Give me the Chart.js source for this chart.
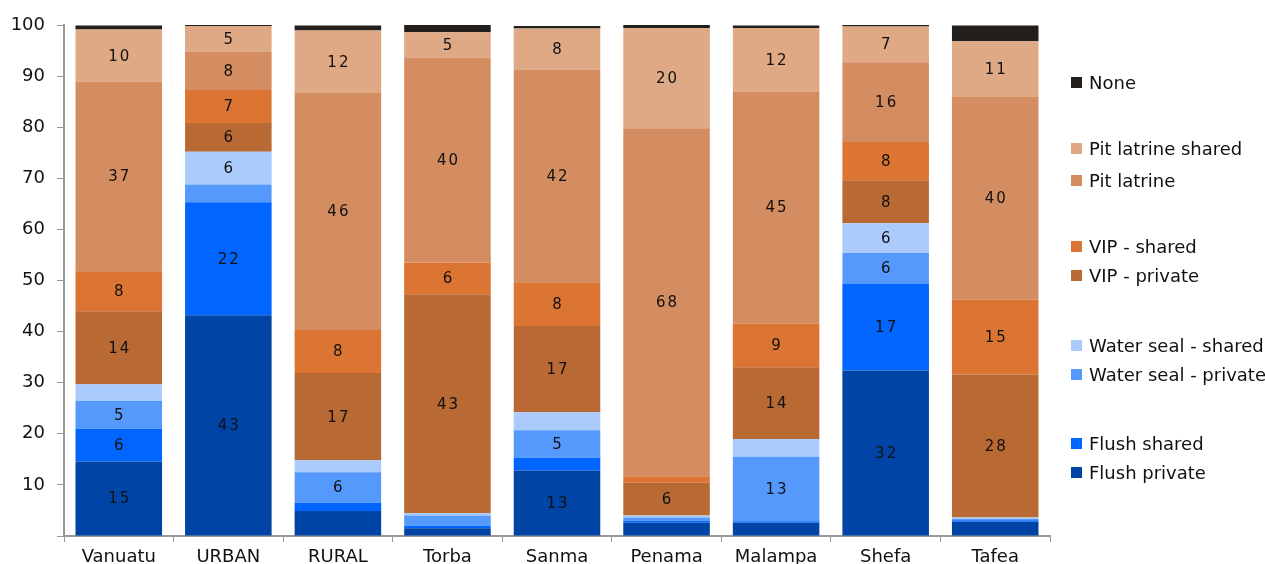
<!DOCTYPE html>
<html>
<head>
<meta charset="utf-8">
<script src="https://cdn.jsdelivr.net/npm/chart.js@4"></script>
<style>
  body { margin: 0; background: #fff; font-family: "DejaVu Sans", sans-serif; }
  #wrap { position: relative; width: 1265px; height: 564px; overflow: hidden; }
  #legend { position: absolute; left: 1071px; top: 0; }
  .item { position: absolute; white-space: nowrap; font-size: 18px; color: #111; line-height: 20px; }
  .item span.box { display: inline-block; width: 11px; height: 11px; margin-right: 7px; vertical-align: 1px; }
</style>
</head>
<body>
<div id="wrap">
  <canvas id="chart" width="1265" height="564"></canvas>
  <div id="legend"></div>
</div>
<script>
// categories
const regions = ["Vanuatu", "URBAN", "RURAL", "Torba", "Sanma", "Penama", "Malampa", "Shefa", "Tafea"];

// series, bottom to top (percent of households)
const flushPrivate     = [14.6, 43.2, 4.9, 1.5, 12.8, 2.6, 2.6, 32.4, 2.8];
const flushShared      = [6.4, 22.1, 1.6, 0.5, 2.5, 0.4, 0.3, 16.9, 0.3];
const waterSealPrivate = [5.4, 3.5, 6.0, 2.0, 5.4, 0.6, 12.6, 6.1, 0.3];
const waterSealShared  = [3.3, 6.4, 2.3, 0.5, 3.5, 0.4, 3.5, 5.8, 0.2];
const vipPrivate       = [14.3, 5.6, 17.1, 42.8, 16.9, 6.4, 14.0, 8.4, 28.0];
const vipShared        = [7.8, 6.5, 8.4, 6.2, 8.4, 1.3, 8.6, 7.5, 14.7];
const pitLatrine       = [37.1, 7.5, 46.4, 40.1, 41.8, 68.1, 45.4, 15.6, 39.6];
const pitShared        = [10.2, 5.0, 12.2, 5.0, 8.0, 19.6, 12.4, 7.0, 10.9];
const none             = [0.8, 0.3, 1.0, 1.4, 0.5, 0.6, 0.5, 0.3, 3.1];

const yTicks = [0, 10, 20, 30, 40, 50, 60, 70, 80, 90, 100];

const series = [
  { label: "Flush private", data: flushPrivate, color: "#0044a6" },
  { label: "Flush shared", data: flushShared, color: "#0066ff" },
  { label: "Water seal - private", data: waterSealPrivate, color: "#5699fd" },
  { label: "Water seal - shared", data: waterSealShared, color: "#accbfd" },
  { label: "VIP - private", data: vipPrivate, color: "#b96934" },
  { label: "VIP - shared", data: vipShared, color: "#dc7533" },
  { label: "Pit latrine", data: pitLatrine, color: "#d48d60" },
  { label: "Pit latrine shared", data: pitShared, color: "#dfa985" },
  { label: "None", data: none, color: "#231f1c" }
];

// legend rows (top to bottom) and their vertical centres
const legendRows = ["None", "Pit latrine shared", "Pit latrine", "VIP - shared", "VIP - private",
  "Water seal - shared", "Water seal - private", "Flush shared", "Flush private"];
const legendY = [83, 149, 181, 247, 276, 346, 375, 444, 473];

// numbers inside the segments
const segmentLabels = {
  id: "segmentLabels",
  afterDatasetsDraw(chart) {
    const ctx = chart.ctx;
    ctx.save();
    ctx.font = "15px 'DejaVu Sans', sans-serif";
    ctx.fillStyle = "#111";
    ctx.textAlign = "center";
    ctx.textBaseline = "middle";
    ctx.letterSpacing = "2px";
    chart.data.datasets.forEach((ds, i) => {
      const meta = chart.getDatasetMeta(i);
      meta.data.forEach((bar, j) => {
        const v = ds.data[j];
        if (v < 5) return;
        const yMid = (bar.y + bar.base) / 2;
        ctx.fillText(String(Math.round(v)), bar.x + 1, yMid + 1);
      });
    });
    ctx.restore();
  }
};

const chart = new Chart(document.getElementById("chart"), {
  type: "bar",
  data: {
    labels: regions,
    datasets: series.map(s => ({
      label: s.label,
      data: s.data,
      backgroundColor: s.color,
      borderWidth: 0,
      barPercentage: 0.79,
      categoryPercentage: 1.0
    }))
  },
  options: {
    responsive: false,
    animation: false,
    layout: { padding: { top: 25, right: 215, left: 0, bottom: 0 } },
    plugins: { legend: { display: false }, tooltip: { enabled: false } },
    scales: {
      x: {
        stacked: true,
        grid: { drawOnChartArea: false, tickLength: 6, color: "#999" },
        border: { color: "#999", width: 2 },
        ticks: { color: "#111", font: { family: "DejaVu Sans", size: 18 }, padding: 5 },
        afterFit(scale) { scale.height = 28; }
      },
      y: {
        stacked: true,
        min: 0,
        max: 100,
        afterBuildTicks(scale) { scale.ticks = yTicks.map(v => ({ value: v })); },
        grid: { drawOnChartArea: false, tickLength: 7, color: "#999" },
        border: { color: "#999", width: 2 },
        ticks: {
          color: "#111",
          font: { family: "DejaVu Sans", size: 18 },
          padding: 12,
          callback: v => (v === 0 ? "" : v)
        },
        afterFit(scale) { scale.width = 64; }
      }
    }
  },
  plugins: [segmentLabels]
});

const legend = document.getElementById("legend");
legendRows.forEach((name, k) => {
  const s = series.find(d => d.label === name);
  const div = document.createElement("div");
  div.className = "item";
  div.style.top = (legendY[k] - 10) + "px";
  div.innerHTML = `<span class="box" style="background:${s.color}"></span>${s.label}`;
  legend.appendChild(div);
});
</script>
</body>
</html>
